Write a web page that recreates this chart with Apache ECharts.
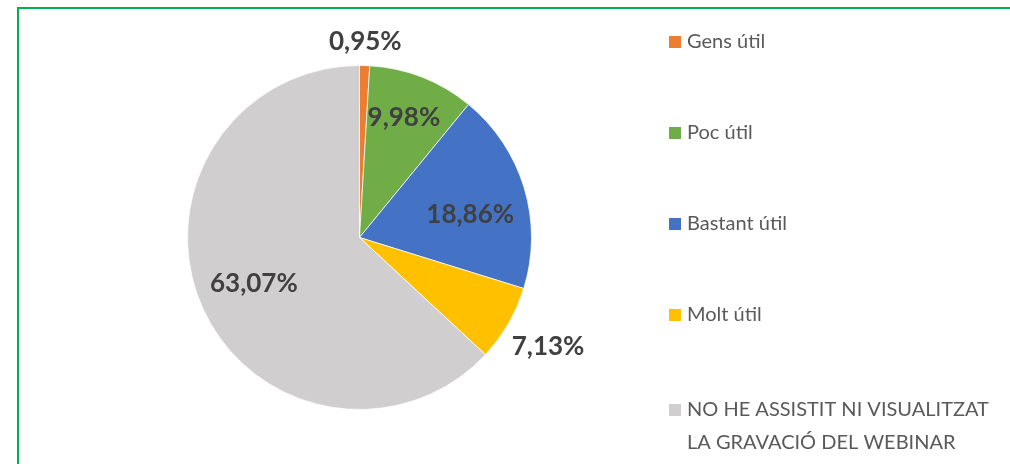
<!DOCTYPE html>
<html>
<head>
<meta charset="utf-8">
<style>
  html, body { margin: 0; padding: 0; background: #fff; }
  #chart { width: 1010px; height: 464px; }
</style>
<script src="https://cdn.jsdelivr.net/npm/echarts@6/dist/echarts.min.js"></script>
</head>
<body>
<div id="chart"></div>
<script>
// Survey answers: how useful the webinar was (share of respondents, %)
const categories = [
  'Gens útil',
  'Poc útil',
  'Bastant útil',
  'Molt útil',
  'NO HE ASSISTIT NI VISUALITZAT\nLA GRAVACIÓ DEL WEBINAR'
];
const shares = [0.95, 9.98, 18.86, 7.13, 63.07];
const sliceColors = ['#ED7D31', '#70AD47', '#4472C4', '#FFC000', '#D0CECE'];

// Label placement: distance from the centre as a fraction of the radius,
// plus a small angular nudge (degrees) for crowded slices.
const labelRadius = [1.137, 0.741, 0.657, 1.267, 0.67];
const labelNudge = [0, -1, 5, 0, 0];

const CX = 359.5, CY = 237.5, R = 172;
const FONT = 'Lato, "Open Sans", "Liberation Sans", sans-serif';

const total = shares.reduce((a, b) => a + b, 0);
const midAngles = [];
let acc = 0;
shares.forEach(v => {
  midAngles.push((acc + v / 2) / total * 360);
  acc += v;
});

const fmtPct = v => v.toFixed(2).replace('.', ',') + '%';

const chart = echarts.init(document.getElementById('chart'), null, { renderer: 'canvas' });

chart.setOption({
  backgroundColor: '#ffffff',
  animation: false,
  color: sliceColors,
  graphic: [{
    type: 'rect',
    silent: true,
    z: 100,
    shape: { x: 18, y: 8, width: 1200, height: 800 },
    style: { fill: 'none', stroke: '#00B050', lineWidth: 2 }
  }],
  legend: [{
    orient: 'vertical',
    left: 667,
    top: 30,
    padding: 0,
    itemWidth: 14,
    itemHeight: 14,
    itemGap: 67,
    icon: 'rect',
    selectedMode: false,
    data: categories.slice(0, 4),
    textStyle: { fontFamily: FONT, fontSize: 20, color: '#595959', lineHeight: 24 }
  }, {
    orient: 'vertical',
    left: 667,
    top: 360.5,
    padding: 0,
    itemWidth: 14,
    itemHeight: 14,
    icon: 'rect',
    selectedMode: false,
    data: categories.slice(4),
    formatter: name => '\n' + name,
    textStyle: { fontFamily: FONT, fontSize: 20, color: '#595959', lineHeight: 33 }
  }],
  series: [{
    type: 'pie',
    center: [CX, CY],
    radius: R,
    startAngle: 90,
    clockwise: true,
    avoidLabelOverlap: false,
    itemStyle: { borderColor: '#ffffff', borderWidth: 0.75 },
    label: {
      show: true,
      position: 'inside',
      formatter: p => fmtPct(p.value),
      fontFamily: FONT,
      fontWeight: 'bold',
      fontSize: 26,
      color: '#404040'
    },
    labelLine: { show: false },
    labelLayout: p => {
      const i = p.dataIndex;
      const a = (midAngles[i] + labelNudge[i]) * Math.PI / 180;
      const d = labelRadius[i] * R;
      return { x: CX + d * Math.sin(a), y: CY - d * Math.cos(a) };
    },
    emphasis: { disabled: true },
    data: categories.map((name, i) => ({ name: name, value: shares[i] }))
  }]
});
</script>
</body>
</html>
